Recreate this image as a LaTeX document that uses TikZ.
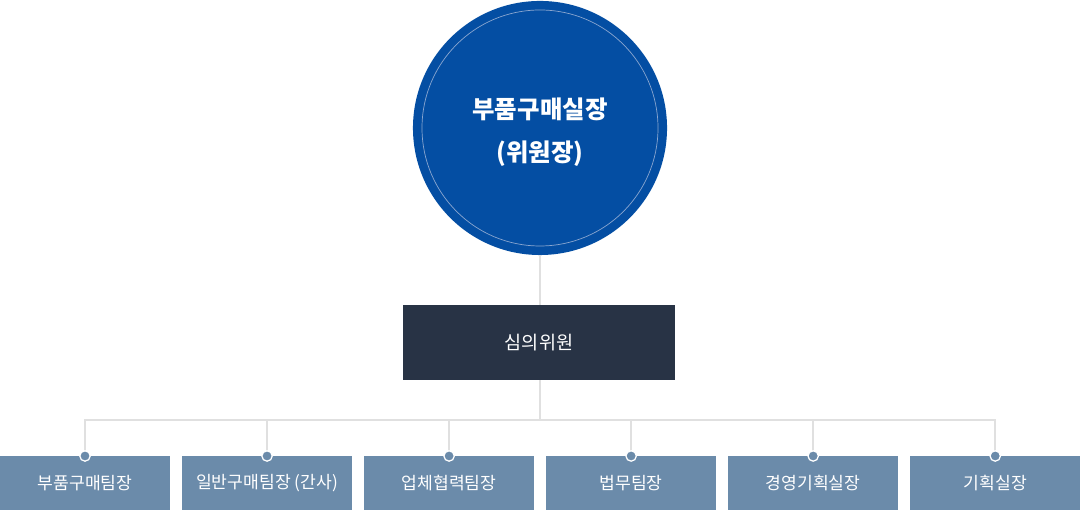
\documentclass[tikz,border=0pt]{standalone}
\usepackage{fontspec}
\setmainfont{Noto Sans CJK KR}
\usetikzlibrary{positioning}
\definecolor{chairblue}{HTML}{044EA3}
\definecolor{ringblue}{HTML}{8AA6D0}
\definecolor{boardnavy}{HTML}{283345}
\definecolor{teamsteel}{HTML}{6B8BAA}
\definecolor{linkgray}{HTML}{E0E0E0}
\tikzset{
  chairnode/.style={circle, fill=chairblue, minimum size=6.35cm, inner sep=0pt},
  chairtext/.style={align=center, text=white, inner sep=0pt,
    font=\bfseries\fontsize{17.4}{31}\selectfont},
  boardbox/.style={fill=boardnavy, text=white, minimum width=6.8cm, minimum height=1.875cm,
    inner sep=0pt, outer sep=0pt, font=\fontsize{13.2}{15}\selectfont},
  teambox/.style={fill=teamsteel, text=white, minimum width=4.25cm, minimum height=1.35cm,
    inner sep=0pt, outer sep=0pt, font=\fontsize{12.2}{14}\selectfont},
  linkline/.style={draw=linkgray, line width=1.4pt},
  teamdot/.style={circle, fill=teamsteel, draw=white, line width=0.9pt, minimum size=2.6mm, inner sep=0pt},
}
\begin{document}
\begin{tikzpicture}[x=0.025cm, y=0.025cm, node distance=0.3cm]
  \useasboundingbox (0,0) rectangle (1080,510);
  \node[chairnode] (chair) at (540,382) {};
  \draw[ringblue, line width=0.5pt] (chair.center) circle[radius=118];
  \node[chairtext] (chairlabel) at ([yshift=-3]chair.center) {부품구매실장\\(위원장)};
  \node[boardbox] (board) at (539,167.5) {심의위원};
  % 팀장 줄
  \node[teambox] (t1) at (85,27) {부품구매팀장};
  \node[teambox, right=of t1] (t2) {일반구매팀장 (간사)};
  \node[teambox, right=of t2] (t3) {업체협력팀장};
  \node[teambox, right=of t3] (t4) {법무팀장};
  \node[teambox, right=of t4] (t5) {경영기획실장};
  \node[teambox, right=of t5] (t6) {기획실장};
  \coordinate (hub) at (540,90);
  \draw[linkline] (chair.south) -- (chair.south |- board.north);
  \draw[linkline] (hub |- board.south) -- (hub);
  \draw[linkline] (hub) -| (t1.north);
  \draw[linkline] (hub) -| (t2.north);
  \draw[linkline] (hub) -| (t3.north);
  \draw[linkline] (hub) -| (t4.north);
  \draw[linkline] (hub) -| (t5.north);
  \draw[linkline] (hub) -| (t6.north);
  \node[teamdot] at (t1.north) {};
  \node[teamdot] at (t2.north) {};
  \node[teamdot] at (t3.north) {};
  \node[teamdot] at (t4.north) {};
  \node[teamdot] at (t5.north) {};
  \node[teamdot] at (t6.north) {};
\end{tikzpicture}
\end{document}
